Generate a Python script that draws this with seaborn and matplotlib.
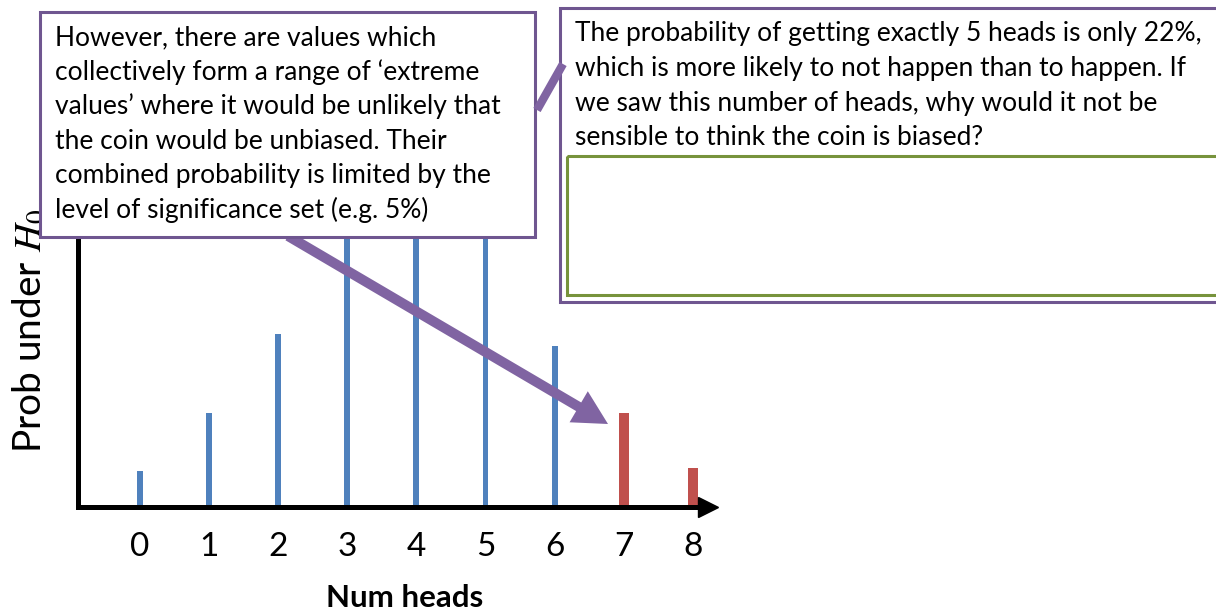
import matplotlib
matplotlib.use("Agg")
import matplotlib.pyplot as plt
import seaborn as sns
from matplotlib.patches import Rectangle, FancyArrow

# ---- data (bar heights in relative units) ----
heads_fair = [0, 1, 2, 3, 4, 5, 6]
prob_fair = [0.036, 0.094, 0.173, 0.29, 0.30, 0.29, 0.161]
heads_extreme = [7, 8]
prob_extreme = [0.094, 0.039]
tick_labels = ["0", "1", "2", "3", "4", "5", "6", "7", "8"]

box1_lines = [
    "However, there are values which",
    "collectively form a range of \u2018extreme",
    "values\u2019 where it would be unlikely that",
    "the coin would be unbiased. Their",
    "combined probability is limited by the",
    "level of significance set (e.g. 5%)",
]
box2_lines = [
    "The probability of getting exactly 5 heads is only 22%,",
    "which is more likely to not happen than to happen. If",
    "we saw this number of heads, why would it not be",
    "sensible to think the coin is biased?",
]

BLUE = "#4F81BD"
RED = "#C0504D"
PURPLE = "#8064A2"
PURPLE_EDGE = "#6F5690"
GREEN = "#77933C"

sns.set_theme(style="white")
plt.rcParams["font.family"] = ["Lato", "DejaVu Sans"]
plt.rcParams["mathtext.fontset"] = "stix"

W, H = 1216, 614
fig = plt.figure(figsize=(W / 100, H / 100), dpi=100)

# main axes in pixel layout
left_px, right_px, bottom_px, top_px = 78, 708, 507, 230
ax = fig.add_axes([left_px / W, 1 - bottom_px / H,
                   (right_px - left_px) / W, (bottom_px - top_px) / H])

sns.barplot(x=heads_fair, y=prob_fair, native_scale=True, width=0.085,
            color=BLUE, saturation=1, linewidth=0, ax=ax)
sns.barplot(x=heads_extreme, y=prob_extreme, native_scale=True, width=0.15,
            color=RED, saturation=1, linewidth=0, ax=ax)

px_per_unit = 69.1
x0_px = 140
ax.set_xlim((left_px - x0_px) / px_per_unit, (right_px - x0_px) / px_per_unit)
ax.set_ylim(0, (bottom_px - top_px) / 1000)
ax.set_xticks(range(len(tick_labels)))
ax.set_xticklabels(tick_labels, fontsize=24, color="black")
ax.set_yticks([])
ax.tick_params(axis="x", length=0, pad=18)
ax.set_xlabel("")
ax.set_ylabel("")
for s in ["top", "right"]:
    ax.spines[s].set_visible(False)
for s in ["left", "bottom"]:
    ax.spines[s].set_color("black")
    ax.spines[s].set_linewidth(3.6)
    ax.spines[s].set_capstyle("projecting")
ax.plot(1, 0, ">", color="black", ms=14, transform=ax.get_yaxis_transform(),
        clip_on=False, zorder=5)

# overlay axes in pixel coordinates for annotations
ov = fig.add_axes([0, 0, 1, 1], zorder=10)
ov.set_xlim(0, W)
ov.set_ylim(H, 0)
ov.axis("off")

# y label (under box 1)
ov.text(29, 453, "Prob under $H_0$", rotation=90, ha="center", va="bottom",
        fontsize=28, color="black", zorder=1)
# x label
ov.text(405, 612, "Num heads", ha="center", va="bottom", fontsize=22.5,
        fontweight="bold", color="black", zorder=1)

# arrow from box 1 to extreme bars
ov.add_patch(FancyArrow(288, 236, 608 - 288, 424 - 236, width=10,
                        head_width=36, head_length=34,
                        length_includes_head=True, color=PURPLE, lw=0,
                        zorder=2))

# box 1
ov.add_patch(Rectangle((40, 12), 495, 225, facecolor="white",
                       edgecolor=PURPLE_EDGE, lw=2.2, zorder=3))
for i, line in enumerate(box1_lines):
    ov.text(55, 45 + i * 34.6, line, fontsize=19, ha="left", va="baseline",
            color="black", zorder=4)

# box 2 (extends beyond right edge)
ov.add_patch(Rectangle((560, 8), 700, 294, facecolor="white",
                       edgecolor=PURPLE_EDGE, lw=2.2, zorder=3, clip_on=False))
for i, line in enumerate(box2_lines):
    ov.text(575, 41.5 + i * 34.6, line, fontsize=19, ha="left", va="baseline",
            color="black", zorder=4)
ov.add_patch(Rectangle((567, 156), 700, 139, facecolor="none",
                       edgecolor=GREEN, lw=2.2, zorder=4))

# connector between boxes
ov.plot([537, 563], [110, 64], color=PURPLE, lw=6, solid_capstyle="butt",
        zorder=5)

fig.savefig("out.png", dpi=100)
